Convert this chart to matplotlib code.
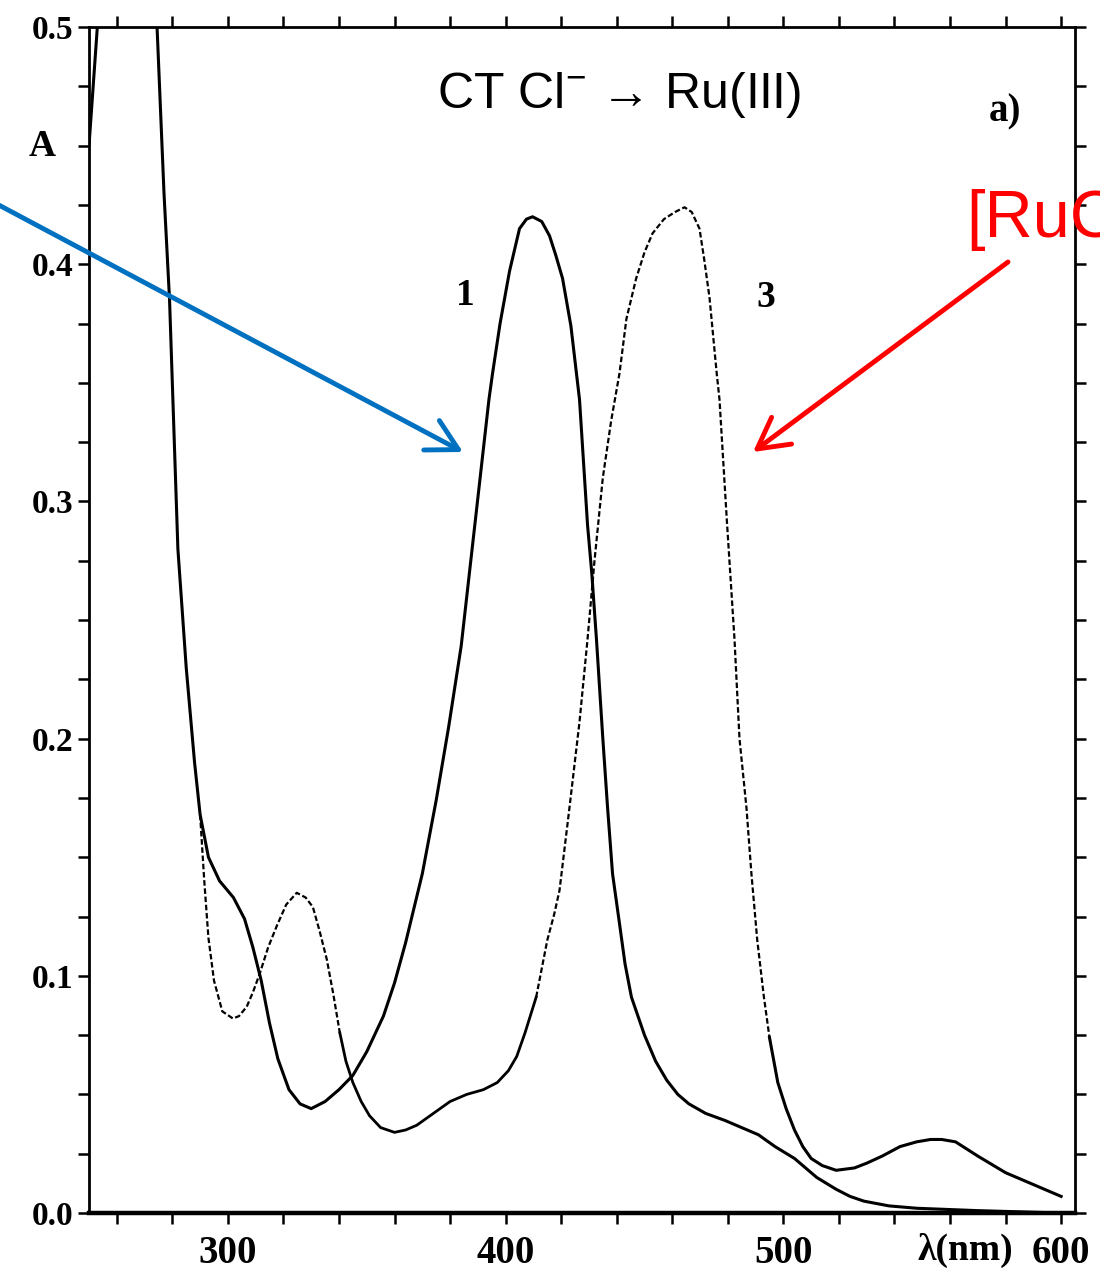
import matplotlib
matplotlib.use("Agg")
import matplotlib.pyplot as plt
import numpy as np
from matplotlib.ticker import MultipleLocator, FixedLocator

# ---------------- data ----------------
wl_common = [250, 253, 256, 262, 268, 272, 274.5, 277, 279, 282, 285, 288, 290]
a_common = [0.45, 0.50, 0.56, 0.62, 0.62, 0.56, 0.50, 0.43, 0.385, 0.28, 0.23, 0.19, 0.168]

wl_1 = [293, 297, 302, 306, 309, 312, 315, 318, 322, 326, 330, 335, 340, 345, 350,
        356, 360, 364, 370, 375, 379.5, 384, 386.5, 389, 391.5, 394, 395.3, 398,
        401.4, 405, 407.5, 409.7, 413, 415.8, 418, 420.5, 423.5, 425.5, 426.6,
        429.5, 431, 432.7, 435, 436.7, 438.5, 441, 443, 445.3, 450, 454, 458, 462,
        466, 472, 479, 485, 491, 497, 504, 512, 519, 524, 529, 538, 548, 570, 600]
a_1 = [0.150, 0.140, 0.133, 0.124, 0.112, 0.098, 0.080, 0.065, 0.052, 0.046, 0.044,
       0.047, 0.052, 0.058, 0.068, 0.083, 0.097, 0.114, 0.143, 0.174, 0.205, 0.239,
       0.265, 0.291, 0.317, 0.343, 0.354, 0.375, 0.397, 0.415, 0.419, 0.420, 0.418,
       0.412, 0.404, 0.394, 0.374, 0.354, 0.343, 0.290, 0.270, 0.242, 0.200, 0.171,
       0.143, 0.122, 0.105, 0.091, 0.075, 0.064, 0.056, 0.050, 0.046, 0.042, 0.039,
       0.036, 0.033, 0.028, 0.023, 0.015, 0.010, 0.007, 0.005, 0.003, 0.002, 0.001,
       0.000]

wl_3 = [291.5, 293, 295, 298, 301.8, 304, 306.8, 309, 311.5, 314.5, 317.6, 321,
        324.8, 328, 330.6, 333, 335.6, 338, 340.3, 342.5, 345, 348, 351, 355, 360,
        364, 368, 374, 380, 386, 392, 397, 401, 404, 407, 411, 415, 417.5, 419.4,
        423, 426.6, 429.5, 432, 435, 438, 441, 443.5, 447, 450, 452.9, 457, 461,
        464.4, 467, 469.8, 471.5, 473.4, 476, 477, 479.7, 482.4, 484.2, 486.7,
        488.5, 490.6, 493, 495, 498, 501, 504, 507, 510, 514, 519, 525.6, 530,
        535.6, 542, 548, 553, 557, 562, 570, 580, 590, 600]
a_3 = [0.140, 0.116, 0.098, 0.085, 0.082, 0.083, 0.087, 0.093, 0.101, 0.112, 0.121,
       0.130, 0.135, 0.133, 0.129, 0.119, 0.107, 0.092, 0.076, 0.064, 0.055, 0.047,
       0.041, 0.036, 0.034, 0.035, 0.037, 0.042, 0.047, 0.050, 0.052, 0.055, 0.060,
       0.066, 0.076, 0.091, 0.115, 0.126, 0.136, 0.171, 0.207, 0.242, 0.275, 0.310,
       0.334, 0.354, 0.377, 0.394, 0.405, 0.413, 0.419, 0.422, 0.424, 0.422, 0.415,
       0.402, 0.386, 0.354, 0.343, 0.291, 0.242, 0.200, 0.171, 0.143, 0.115, 0.091,
       0.074, 0.055, 0.044, 0.035, 0.028, 0.023, 0.020, 0.018, 0.019, 0.021, 0.024,
       0.028, 0.030, 0.031, 0.031, 0.030, 0.024, 0.017, 0.012, 0.007]

x_major = [300, 400, 500, 600]
y_major = [0.0, 0.1, 0.2, 0.3, 0.4, 0.5]
y_labels = ["0.0", "0.1", "0.2", "0.3", "0.4", "0.5"]
x_labels = ["300", "400", "500", "600"]

# ---------------- figure ----------------
W, H = 1100, 1281
fig = plt.figure(figsize=(W / 100, H / 100), dpi=100)
ax = fig.add_axes([89 / W, 68 / H, (1075 - 89) / W, (1213 - 27) / H])

serif = ["Liberation Serif", "DejaVu Serif"]
sans = ["Liberation Sans", "DejaVu Sans"]

c1_x = np.array(wl_common + wl_1)
c1_y = np.array(a_common + a_1)
c3_x = np.array(wl_common + wl_3)
c3_y = np.array(a_common + a_3)

# curve 3: dotted where the scan shows it dotted, solid elsewhere
dash = (0, (2.5, 1.2))
m_dot1 = (c3_x >= 290) & (c3_x <= 340.3)
m_sol1 = (c3_x >= 340.3) & (c3_x <= 411)
m_dot2 = (c3_x >= 411) & (c3_x <= 495)
m_sol2 = c3_x >= 495
ax.plot(c3_x[m_dot1], c3_y[m_dot1], color="black", lw=1.6, ls=dash)
ax.plot(c3_x[m_sol1], c3_y[m_sol1], color="black", lw=2.0)
ax.plot(c3_x[m_dot2], c3_y[m_dot2], color="black", lw=1.6, ls=dash)
ax.plot(c3_x[m_sol2], c3_y[m_sol2], color="black", lw=2.2)
ax.plot(c1_x, c1_y, color="black", lw=2.2)

ax.set_xlim(250, 605)
ax.set_ylim(0.0, 0.5)

ax.xaxis.set_major_locator(FixedLocator(x_major))
ax.xaxis.set_minor_locator(MultipleLocator(20))
ax.yaxis.set_major_locator(FixedLocator(y_major))
ax.yaxis.set_minor_locator(MultipleLocator(0.025))
ax.set_xticklabels(x_labels)
ax.set_yticklabels(y_labels)

ax.tick_params(which="both", direction="out", length=8, width=1.8,
               top=True, right=True, labeltop=False, labelright=False)
ax.tick_params(axis="y", which="major", pad=3)
ax.tick_params(axis="x", which="major", pad=8)
for lab in ax.get_yticklabels():
    lab.set_fontfamily(serif)
    lab.set_fontweight("bold")
    lab.set_fontsize(24)
for lab in ax.get_xticklabels():
    lab.set_fontfamily(serif)
    lab.set_fontweight("bold")
    lab.set_fontsize(28)

for side in ["left", "right", "top"]:
    ax.spines[side].set_linewidth(2.0)
ax.spines["bottom"].set_linewidth(3.2)

# ---------------- labels & annotations ----------------
fig.text(42 / W, 1 - 147 / H, "A", family=serif, weight="bold", fontsize=27,
         ha="center", va="center")
fig.text(965 / W, 1 - 1250 / H, "λ(nm)", family=serif, weight="bold", fontsize=27,
         ha="center", va="center")
fig.text(1005 / W, 1 - 112 / H, "a)", family=serif, weight="bold", fontsize=28,
         ha="center", va="center")
ax.text(385.6, 0.387, "1", family=serif, weight="bold", fontsize=27,
        ha="center", va="center")
ax.text(493.5, 0.386, "3", family=serif, weight="bold", fontsize=27,
        ha="center", va="center")

plt.rcParams["mathtext.fontset"] = "custom"
plt.rcParams["mathtext.rm"] = "Liberation Sans"
plt.rcParams["mathtext.it"] = "Liberation Sans"
fig.text(437 / W, 1 - 95 / H, r"CT Cl$^{\mathrm{-}}$ → Ru(III)", family=sans,
         fontsize=36, ha="left", va="center")
fig.text(966 / W, 1 - 237 / H, "[RuCl₆]³⁻", family=sans, fontsize=48,
         color="#ff0000", ha="left", va="baseline")

ax.annotate("", xy=(463 / W, 1 - 452 / H), xycoords="figure fraction",
            xytext=(-5 / W, 1 - 203 / H), textcoords="figure fraction",
            arrowprops=dict(arrowstyle="->,head_length=0.55,head_width=0.3",
                            mutation_scale=40, lw=3.5, color="#0070c0",
                            shrinkA=0, shrinkB=0), annotation_clip=False)
ax.annotate("", xy=(753 / W, 1 - 452 / H), xycoords="figure fraction",
            xytext=(1008 / W, 1 - 262 / H), textcoords="figure fraction",
            arrowprops=dict(arrowstyle="->,head_length=0.55,head_width=0.3",
                            mutation_scale=40, lw=3.5, color="#ff0000",
                            shrinkA=0, shrinkB=0), annotation_clip=False)

fig.savefig("out.png", dpi=100)
